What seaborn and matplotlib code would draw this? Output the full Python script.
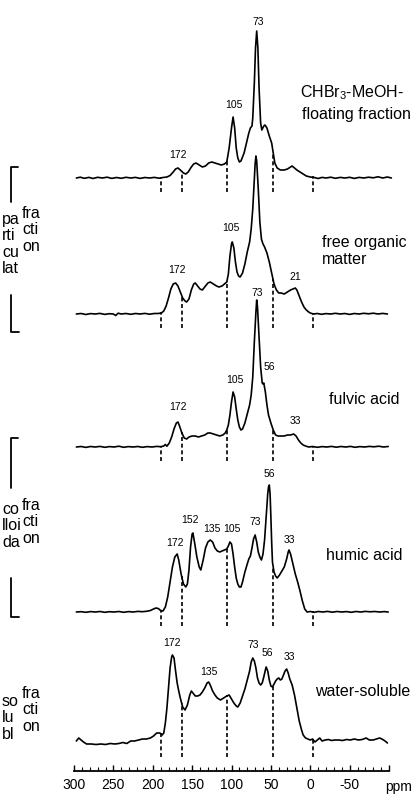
import numpy as np
import pandas as pd
import matplotlib
matplotlib.use('Agg')
import matplotlib.pyplot as plt
from matplotlib.lines import Line2D
import seaborn as sns

# 13C NMR spectra: (ppm, intensity above baseline)
floating = [(297, 0), (292, 0.8), (287, -0.3), (281, 0.6), (276, -0.5), (270, 0.7), (264, 0), (258, 0.8),
            (252, -0.4), (246, 0.5), (240, -0.3), (234, 0.7), (228, 0), (222, 0.6), (216, -0.4), (210, 0.5),
            (204, 0), (198, 0.6), (192, -0.2), (187, 0.5), (182, 1), (178, 2.5), (174, 6), (171, 9), (168, 10),
            (165, 8), (161, 5), (158, 4), (155, 6), (151, 11), (148, 14), (145, 15), (141, 13), (137, 11),
            (133, 12), (129, 15), (125, 16), (121, 15), (117, 14), (113, 13), (109, 14), (106, 16), (103, 30),
            (100, 50), (98, 61), (96, 50), (94, 30), (92, 20), (90, 16), (88, 17), (84, 25), (81, 35), (78, 45),
            (76, 50), (74, 52), (73, 60), (71, 95), (69.5, 130), (68, 147), (66.5, 130), (65, 90), (63, 55),
            (61.5, 48), (59, 52), (57.5, 53), (55, 50), (52, 42), (49, 35), (47, 25), (45, 15), (42, 10),
            (38, 8), (33, 8), (29, 9), (25, 11), (23, 12), (20, 10), (17, 8), (13, 6), (9, 4), (5, 2), (0, 1),
            (-5, 0.5), (-10, -0.5), (-15, 0.6), (-20, 0), (-26, 0.8), (-32, -0.3), (-38, 0.6), (-44, 0),
            (-50, 0.7), (-56, -0.4), (-62, 0.6), (-68, 0), (-74, 0.8), (-80, 0.2), (-86, 1.2), (-92, 0),
            (-98, 1), (-103, 0)]

free_om = [(297, 0), (291, 0.5), (285, -0.5), (279, 0.4), (273, 0), (267, 0.6), (261, -0.4), (255, 0.3),
           (250, 0), (247, -1.5), (244, 0.8), (240, 0), (234, 0.5), (228, -0.3), (222, 0.5), (216, 0),
           (210, 0.6), (204, -0.2), (198, 0.5), (193, 0.5), (189, 1), (186, 3), (183, 8), (180, 16), (177, 25),
           (174, 30), (171, 31), (168, 28), (165, 22), (162, 16), (159, 13), (157, 12), (154, 15), (151, 24),
           (148, 30), (146, 31), (143, 28), (140, 25), (137, 24), (134, 27), (130, 31), (127, 32), (123, 30),
           (119, 28), (116, 27), (112, 28), (109, 30), (106, 32), (104, 40), (102, 58), (100, 70), (99, 72),
           (97, 66), (95, 52), (93, 42), (91, 38), (89, 37), (86, 41), (83, 50), (80, 62), (77, 72), (75, 85),
           (73, 105), (71, 135), (70, 150), (69, 158), (68, 153), (66, 125), (64, 92), (62, 75), (60, 70),
           (58, 67), (55, 61), (52, 52), (49, 41), (46, 30), (43, 24), (40, 21), (37, 21), (33, 20), (29, 22),
           (25, 24), (22, 25), (19, 26), (17, 24), (14, 18), (11, 12), (8, 7), (5, 4), (2, 2), (0, 1), (-4, 0),
           (-9, 0.5), (-14, -0.3), (-20, 0.4), (-26, 0), (-32, 0.7), (-38, 0), (-44, 0.5), (-50, -0.4),
           (-56, 0.5), (-62, 0), (-68, 0.7), (-74, 0.2), (-80, 0.8), (-86, 0), (-92, 0.6), (-98, 0)]

fulvic = [(297, 0), (291, 0.5), (285, -0.4), (279, 0.5), (273, 0), (267, 0.6), (261, -0.3), (255, 0.4),
          (249, 0), (243, 0.8), (237, -0.3), (231, 0.4), (225, 0), (219, 0.5), (213, -0.3), (207, 0.4),
          (201, 0), (195, 0.6), (190, 0.3), (186, 1), (184, 2.5), (182, 0.8), (179, 4), (176, 10), (173, 18),
          (170, 24), (168, 25), (166, 21), (163, 14), (160, 9), (157, 8), (154, 10), (150, 11), (146, 11),
          (142, 10), (138, 11), (134, 12), (130, 14), (127, 14), (123, 13), (119, 12), (115, 11), (111, 12),
          (108, 14), (106, 17), (104, 22), (102, 32), (100, 45), (98, 55), (96, 50), (94, 38), (92, 27),
          (90, 20), (88, 17), (86, 18), (83, 24), (80, 33), (77, 42), (75, 52), (73, 70), (71, 105), (69, 135),
          (68, 147), (67, 140), (65, 110), (63, 80), (61, 64), (60, 63), (59, 64), (57, 55), (55, 42),
          (53, 32), (50, 24), (47, 17), (44, 12), (41, 11), (37, 11), (33, 11), (29, 12), (25, 12), (21, 13),
          (18, 11), (15, 7), (12, 4), (9, 2), (6, 1), (2, 0), (-3, 0.5), (-9, -0.3), (-15, 0.4), (-21, 0),
          (-27, 0.6), (-33, -0.2), (-39, 0.5), (-45, 0), (-51, 0.6), (-57, -0.3), (-63, 0.4), (-69, 0),
          (-75, 0.6), (-81, 0.2), (-87, 0.8), (-93, 0), (-99, 0.5)]

humic = [(297, 0), (291, 0.3), (285, -0.3), (279, 0.4), (273, 0), (267, 0.5), (261, -0.3), (255, 0.3),
         (249, 0), (243, 0.5), (237, -0.3), (231, 0.4), (225, 0), (219, 0.6), (213, 0.3), (207, 0.8),
         (203, 1.5), (199, 3), (196, 4), (193, 3.5), (190, 1.5), (187, 1), (184, 5), (181, 15), (178, 30),
         (175, 45), (172, 55), (169, 58), (167, 52), (164, 38), (161, 28), (158, 25), (156, 28), (154, 42),
         (152, 65), (150, 78), (149, 79), (147, 70), (144, 55), (141, 45), (139, 42), (136, 52), (133, 64),
         (130, 70), (127, 72), (124, 70), (121, 64), (118, 61), (115, 60), (112, 61), (109, 62), (106, 63),
         (104, 66), (102, 70), (100, 68), (98, 58), (96, 45), (94, 34), (92, 28), (90, 25), (88, 25),
         (86, 30), (83, 40), (80, 48), (78, 53), (76, 56), (74, 64), (72, 73), (70, 77), (68, 70), (66, 60),
         (64, 55), (62, 52), (60, 58), (58, 72), (56, 95), (54, 118), (53, 125), (52, 127), (51, 118),
         (50, 95), (49, 70), (48, 50), (46, 40), (44, 36), (42, 34), (39, 37), (36, 41), (33, 45), (30, 53),
         (28, 60), (27, 62), (25, 58), (22, 48), (19, 38), (16, 30), (13, 21), (10, 11), (7, 3), (4, 0),
         (0, 0.5), (-5, -0.3), (-10, 0.5), (-16, 0), (-22, 0.6), (-28, -0.2), (-34, 0.5), (-40, 0),
         (-46, 0.4), (-52, -0.3), (-58, 0.5), (-64, 0), (-70, 0.6), (-76, 0.2), (-82, 0.5), (-88, 0),
         (-94, 0.4), (-99, 0)]

water = [(297, 2), (294, 5), (291, 3), (288, 1), (284, -1), (278, -1), (272, -1.5), (266, -1), (260, -1.5),
         (254, -0.5), (248, -1), (243, -0.5), (238, 0.5), (233, -0.5), (228, 2), (223, 2), (218, 3), (213, 4),
         (208, 4), (203, 5), (199, 7), (195, 10), (191, 10), (188, 8), (186, 10), (184, 20), (182, 35),
         (180, 55), (178, 75), (176, 86), (175, 88), (173, 85), (171, 72), (169, 60), (167, 52), (165, 45),
         (162, 36), (159, 33), (156, 38), (153, 48), (151, 52), (149, 50), (146, 47), (143, 47), (140, 48),
         (137, 51), (134, 55), (131, 60), (129, 61), (127, 58), (124, 52), (121, 48), (118, 45), (114, 43),
         (110, 45), (106, 47), (103, 48), (100, 44), (97, 40), (94, 37), (92, 36), (89, 40), (86, 47),
         (83, 54), (80, 63), (77, 72), (75, 81), (73, 85), (71, 82), (69, 75), (67, 65), (65, 60), (63, 58),
         (61, 60), (59, 66), (57, 73), (56, 76), (54, 72), (52, 63), (50, 57), (48, 56), (46, 59), (44, 62),
         (42, 64), (40, 65), (38, 63), (36, 64), (34, 68), (32, 72), (30, 74), (28, 70), (26, 64), (23, 58),
         (20, 48), (17, 35), (14, 22), (11, 13), (9, 8), (6, 5), (3, 4), (0, 3), (-3, 4), (-6, 1), (-9, 3),
         (-12, 5), (-15, 2), (-19, 3), (-23, 3.5), (-27, 2.5), (-31, 3), (-36, 3), (-41, 2.5), (-46, 3.5),
         (-51, 3), (-56, 4), (-61, 3), (-66, 3.5), (-71, 5), (-75, 3), (-80, 3), (-84, 4), (-88, 5),
         (-91, 4), (-95, 2), (-98, 0)]

# peak labels: (text, ppm, height above baseline)
floating_peaks = [('172', 168, 23), ('105', 97, 73), ('73', 66, 156)]
free_om_peaks = [('172', 169, 44), ('105', 101, 86), ('21', 19, 37)]
fulvic_peaks = [('73', 68, 154), ('56', 52, 80), ('105', 96, 67), ('172', 168, 40), ('33', 19, 26)]
humic_peaks = [('56', 52, 138), ('152', 153, 92), ('135', 125, 83), ('105', 100, 83), ('73', 70, 90),
               ('172', 172, 69), ('33', 27, 72)]
water_peaks = [('172', 176, 100), ('135', 129, 71), ('73', 73, 98), ('56', 55, 90), ('33', 26, 86)]

# integration region borders (dashed lines), ppm
borders = [189, 163, 106, 47, -3]

tick_vals = [300, 250, 200, 150, 100, 50, 0, -50]

spectra = [floating, free_om, fulvic, humic, water]
peaks = [floating_peaks, free_om_peaks, fulvic_peaks, humic_peaks, water_peaks]

W, H = 417, 794
# baselines in pixels from the bottom of the figure
baselines = [616, 480, 347, 182, 51]
axis_y = 23

sns.set_theme(style='white')
plt.rcParams['font.family'] = ['Liberation Sans', 'DejaVu Sans']
plt.rcParams['text.color'] = 'black'
plt.rcParams['xtick.color'] = 'black'
plt.rcParams['xtick.labelcolor'] = 'black'
plt.rcParams['mathtext.fontset'] = 'custom'
plt.rcParams['mathtext.rm'] = 'Liberation Sans'

fig = plt.figure(figsize=(W / 100, H / 100), dpi=100)
ax = fig.add_axes([0, 0, 1, 1])
ax.patch.set_alpha(0)

for data, pk, base in zip(spectra, peaks, baselines):
    df = pd.DataFrame(data, columns=['ppm', 'intensity'])
    df['y'] = df['intensity'] + base
    sns.lineplot(data=df, x='ppm', y='y', color='black', lw=1.2, sort=False,
                 estimator=None, ax=ax)
    tops = np.interp(borders, df['ppm'][::-1], df['y'][::-1])
    ax.vlines(borders, base - 14, tops + 1, colors='black', lw=1.2,
              linestyles=(0, (2.4, 1.6)))
    for txt, x, h in pk:
        ax.text(x, base + h, txt, ha='center', va='center', fontsize=7.5)

# scale: 300 ppm at x=74 px, 0.7875 px per ppm
ax.set_xlim(300 + 74 / 0.7875, 300 - (W - 74) / 0.7875)
ax.set_ylim(0, H)
ax.set_xlabel('')
ax.set_ylabel('')
ax.set_yticks([])
for s in ['top', 'left', 'right']:
    ax.spines[s].set_visible(False)
ax.spines['bottom'].set_position(('data', axis_y))
ax.spines['bottom'].set_bounds(-100, 300)
ax.spines['bottom'].set_color('black')
ax.spines['bottom'].set_linewidth(1.3)
ax.set_xticks(tick_vals + [-100])
ax.set_xticklabels([str(v) for v in tick_vals] + [''])
ax.set_xticks(np.arange(-100, 301, 10), minor=True)
ax.tick_params(axis='x', which='major', direction='in', length=4, width=1, color='black',
               labelsize=10, pad=5, bottom=True)
ax.tick_params(axis='x', which='minor', direction='in', length=3, width=0.8, color='black',
               bottom=True)
ax.text(-112, axis_y - 16, 'ppm', ha='center', va='center', fontsize=10)


def fx(px):
    return px / W


def fy(py):
    return 1 - py / H


# sample names on the right
fig.text(fx(300), fy(93), 'CHBr$_\\mathrm{3}$-MeOH-', fontsize=11.5, va='center')
fig.text(fx(302), fy(115), 'floating fraction', fontsize=11.5, va='center')
fig.text(fx(322), fy(242), 'free organic', fontsize=11.5, va='center')
fig.text(fx(322), fy(260), 'matter', fontsize=11.5, va='center')
fig.text(fx(329), fy(400), 'fulvic acid', fontsize=11.5, va='center')
fig.text(fx(326), fy(555), 'humic acid', fontsize=11.5, va='center')
fig.text(fx(315), fy(692), 'water-soluble', fontsize=11.5, va='center')

# fraction names on the left
lx1, lx2 = 2, 22
ls = 1.12
fig.text(fx(lx1), fy(244), 'pa\nrti\ncu\nlat', fontsize=11.5, va='center', linespacing=ls)
fig.text(fx(lx2), fy(230), 'fra\ncti\non', fontsize=11.5, va='center', linespacing=ls)
fig.text(fx(lx1), fy(526), 'co\nlloi\nda', fontsize=11.5, va='center', linespacing=ls)
fig.text(fx(lx2), fy(522), 'fra\ncti\non', fontsize=11.5, va='center', linespacing=ls)
fig.text(fx(lx1), fy(718), 'so\nlu\nbl', fontsize=11.5, va='center', linespacing=ls)
fig.text(fx(lx2), fy(710), 'fra\ncti\non', fontsize=11.5, va='center', linespacing=ls)

# brackets
bx = 11
for top, mid1, mid2, bot in [(167, 202, 295, 332), (438, 488, 578, 617)]:
    for xs, ys in [([bx + 7, bx, bx], [top, top, mid1]), ([bx, bx, bx + 8], [mid2, bot, bot])]:
        fig.add_artist(Line2D([fx(v) for v in xs], [fy(v) for v in ys], color='black', lw=1.3))

fig.savefig('out.png', dpi=100)
